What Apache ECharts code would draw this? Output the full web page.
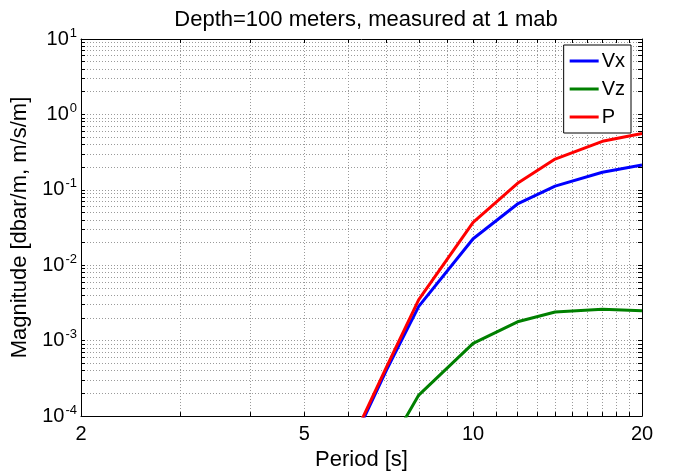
<!DOCTYPE html>
<html>
<head>
<meta charset="utf-8">
<script src="https://cdn.jsdelivr.net/npm/echarts@6/dist/echarts.min.js"></script>
<style>
  html, body { margin: 0; padding: 0; background: #fff; }
  #chart { width: 684px; height: 476px; }
</style>
</head>
<body>
<div id="chart"></div>
<script>
// Transfer magnitude versus wave period (log-log)
const periods = [6, 7, 8, 10, 12, 14, 17, 20];
const vxValues = [3.5e-5, 4.0e-4, 2.85e-3, 0.0225, 0.065, 0.112, 0.171, 0.213];
const pValues  = [3.8e-5, 4.4e-4, 3.5e-3, 0.037, 0.122, 0.256, 0.44, 0.56];
const vzPeriods = [7, 8, 10, 12, 14, 17, 20];
const vzValues  = [3.4e-5, 1.9e-4, 9.2e-4, 1.78e-3, 2.4e-3, 2.62e-3, 2.5e-3];

const xTickLabels = [2, 5, 10, 20];
const yTickLabels = [1e-4, 1e-3, 1e-2, 1e-1, 1, 10];

// Log grid positions: every integer period, every mantissa 1..9 per decade
const xGridValues = [];
for (let v = 2; v <= 20; v++) xGridValues.push(v);
const yGridValues = [];
for (let e = -4; e < 1; e++) {
  for (let m = 1; m <= 9; m++) yGridValues.push(Number((m * Math.pow(10, e)).toPrecision(3)));
}
yGridValues.push(10);

const FONT = '"Liberation Sans", Arial, Helvetica, sans-serif';

function pairs(xs, ys) { return xs.map((x, i) => [x, ys[i]]); }

const chart = echarts.init(document.getElementById('chart'), null, { renderer: 'canvas' });

const gridLine = { show: true, lineStyle: { color: '#9a9a9a', type: [1, 2], width: 1 } };
const frameLine = { show: true, lineStyle: { color: '#000', width: 1 } };

chart.setOption({
  animation: false,
  backgroundColor: '#fff',
  textStyle: { fontFamily: FONT },
  title: {
    text: 'Depth=100 meters, measured at 1 mab',
    left: 361, textAlign: 'center', top: 4,
    textStyle: { fontFamily: FONT, fontSize: 22, fontWeight: 'normal', color: '#000' }
  },
  grid: { left: 81, right: 42, top: 39, bottom: 57, containLabel: false },
  legend: {
    orient: 'vertical',
    right: 53, top: 45,
    padding: [6, 6, 6, 6],
    itemGap: 8,
    itemWidth: 29, itemHeight: 3,
    icon: 'rect',
    backgroundColor: '#fff',
    borderColor: '#000', borderWidth: 1, borderRadius: 0,
    textStyle: { fontFamily: FONT, fontSize: 20, color: '#000', padding: [0, 0, 0, -2], lineHeight: 20 },
    data: ['Vx', 'Vz', 'P']
  },
  xAxis: [{
    type: 'log', logBase: 10, min: 2, max: 20,
    name: 'Period [s]', nameLocation: 'middle', nameGap: 27,
    nameTextStyle: { fontFamily: FONT, fontSize: 22, color: '#000' },
    axisLine: frameLine,
    axisTick: { show: true, inside: true, length: 4, customValues: xGridValues, lineStyle: { color: '#000' } },
    axisLabel: { show: true, margin: 8, customValues: xTickLabels, fontFamily: FONT, fontSize: 20, color: '#000',
      formatter: v => String(Math.round(v)) },
    splitLine: gridLine,
    minorTick: { show: false }
  }, {
    type: 'log', logBase: 10, min: 2, max: 20, position: 'top',
    axisLine: frameLine,
    axisTick: { show: true, inside: true, length: 4, customValues: xGridValues, lineStyle: { color: '#000' } },
    axisLabel: { show: false },
    splitLine: { show: false }
  }],
  yAxis: [{
    type: 'log', logBase: 10, min: 1e-4, max: 10,
    name: 'Magnitude [dbar/m, m/s/m]', nameLocation: 'middle', nameGap: 47, nameRotate: 90,
    nameTextStyle: { fontFamily: FONT, fontSize: 22, color: '#000' },
    axisLine: frameLine,
    axisTick: { show: true, inside: true, length: 4, customValues: yGridValues, lineStyle: { color: '#000' } },
    axisLabel: {
      show: true, margin: 4, customValues: yTickLabels, color: '#000',
      formatter: v => '{b|10}{e|' + Math.round(Math.log10(v)) + '}',
      rich: {
        b: { fontFamily: FONT, fontSize: 20, color: '#000' },
        e: { fontFamily: FONT, fontSize: 13, color: '#000', padding: [0, 0, 12, 1] }
      }
    },
    splitLine: gridLine
  }, {
    type: 'log', logBase: 10, min: 1e-4, max: 10, position: 'right',
    axisLine: frameLine,
    axisTick: { show: true, inside: true, length: 4, customValues: yGridValues, lineStyle: { color: '#000' } },
    axisLabel: { show: false },
    splitLine: { show: false }
  }],
  series: [
    { name: 'Vx', type: 'line', xAxisIndex: 0, yAxisIndex: 0, data: pairs(periods, vxValues),
      symbol: 'none', color: '#0000ff', lineStyle: { color: '#0000ff', width: 3 }, z: 3 },
    { name: 'Vz', type: 'line', xAxisIndex: 0, yAxisIndex: 0, data: pairs(vzPeriods, vzValues),
      symbol: 'none', color: '#008000', lineStyle: { color: '#008000', width: 3 }, z: 3 },
    { name: 'P', type: 'line', xAxisIndex: 0, yAxisIndex: 0, data: pairs(periods, pValues),
      symbol: 'none', color: '#ff0000', lineStyle: { color: '#ff0000', width: 3 }, z: 4 }
  ]
});
</script>
</body>
</html>
